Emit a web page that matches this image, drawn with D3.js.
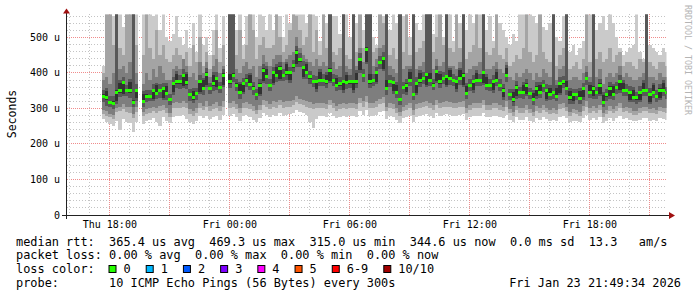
<!DOCTYPE html>
<html>
<head>
<meta charset="utf-8">
<script src="https://cdn.jsdelivr.net/npm/d3@7"></script>
<style>
body { margin: 0; background: #fff; }
svg { display: block; }
text { font-family: "DejaVu Sans Mono", monospace; fill: #000; }
</style>
</head>
<body>
<svg id="chart" width="697" height="297"></svg>
<script>
// graph window and smoke steps (10 min each)
var graphStart = new Date(2026, 0, 22, 15, 50);
var graphEnd = new Date(2026, 0, 23, 21, 50);
var firstStep = new Date(2026, 0, 22, 17, 35);
var stepMinutes = 10;

// median rtt per step, microseconds
var median = [335,330,318,315,346,350,372,350,350,318,
 350,null,321,335,335,350,343,350,357,343,
 325,371,375,375,394,372,338,330,343,375,
 357,397,357,370,385,360,394,null,375,394,
 366,346,370,380,368,357,338,366,408,390,
 366,400,394,414,394,400,400,420,459,437,
 415,402,390,375,375,380,378,375,408,380,
 365,370,375,372,375,375,375,437,394,467,
 375,378,400,430,442,357,375,372,346,324,
 360,366,380,338,370,378,385,395,380,366,
 403,375,385,390,385,378,375,385,394,343,
 366,375,378,380,400,366,366,375,380,366,
 352,394,340,324,360,345,345,366,343,324,
 357,345,365,350,338,345,335,370,375,355,
 330,340,338,327,355,385,345,357,345,366,
 318,338,357,340,360,375,350,352,345,332,
 330,345,350,352,340,345,335,352,350,345];

// the 10 pings of each step, lowest to highest (600 = off the top)
var ping1 = [270,262,255,250,265,240,270,262,258,235,
 262,null,255,265,268,272,262,250,275,265,
 258,275,280,278,282,270,262,255,265,278,
 272,280,270,275,280,268,282,null,278,285,
 275,265,278,282,275,268,262,272,288,282,
 275,282,278,288,280,282,285,288,295,290,
 288,282,262,245,270,278,280,275,288,278,
 272,276,278,275,278,278,275,292,282,295,
 278,280,282,290,292,270,278,275,268,258,
 272,275,280,262,276,280,282,285,280,274,
 288,278,282,284,282,280,278,282,284,268,
 275,278,280,280,288,275,275,278,280,275,
 272,282,268,262,275,268,268,275,266,262,
 272,268,275,270,265,268,264,276,278,272,
 262,266,265,262,272,282,268,272,268,275,
 258,266,272,266,274,280,270,272,268,264,
 264,268,272,272,266,268,264,272,270,268];
var ping2 = [285,280,275,270,290,292,298,290,288,272,
 290,null,278,285,286,292,288,292,295,286,
 276,300,302,300,305,300,285,280,286,300,
 295,305,294,298,302,294,305,null,300,305,
 298,288,300,302,298,292,284,296,310,305,
 298,305,302,310,302,305,305,310,318,312,
 310,305,302,298,300,300,300,298,310,300,
 294,298,300,298,300,300,298,315,305,318,
 300,302,305,312,315,292,300,298,288,280,
 292,296,302,282,298,302,304,306,302,296,
 310,300,304,305,304,302,300,304,305,288,
 296,300,302,302,310,296,296,300,302,296,
 292,305,286,280,295,288,288,296,286,280,
 292,288,296,290,284,288,284,298,300,292,
 280,286,284,280,292,305,288,292,288,296,
 276,285,292,286,294,300,290,292,288,282,
 282,288,292,292,286,288,284,292,290,288];
var ping3 = [295,292,285,282,302,305,312,305,305,285,
 305,null,290,298,300,305,302,306,310,300,
 288,315,318,315,320,315,298,292,300,315,
 308,320,308,312,318,308,320,null,315,320,
 312,302,315,318,312,306,296,310,325,320,
 312,320,318,325,318,320,320,325,335,328,
 325,320,318,312,315,315,315,312,325,316,
 308,312,315,312,315,315,312,330,320,335,
 315,316,320,328,332,305,315,312,300,290,
 305,310,316,295,312,316,318,322,316,310,
 325,315,318,320,318,316,315,318,320,300,
 310,315,316,316,325,310,310,315,316,310,
 305,320,298,290,308,300,300,310,298,290,
 306,300,310,302,296,300,295,312,315,305,
 290,298,296,290,306,320,300,306,300,310,
 286,296,306,298,308,315,302,304,300,292,
 292,300,305,305,298,300,295,305,302,300];
var ping4 = [317,308,304,299,314,332,336,334,330,303,
 322,null,305,317,320,322,327,330,323,325,
 310,339,357,355,358,354,322,315,323,341,
 339,361,341,350,353,344,360,null,357,374,
 350,328,340,360,353,339,323,334,372,370,
 350,366,376,378,378,380,372,402,417,417,
 383,384,370,360,347,362,362,357,372,362,
 350,352,345,356,357,345,359,401,376,425,
 357,363,368,410,406,339,360,342,330,310,
 342,338,362,323,338,360,369,361,362,351,
 371,357,369,360,367,363,347,367,360,328,
 348,345,362,362,366,351,348,345,364,348,
 324,376,325,308,328,330,327,336,328,310,
 327,330,347,320,323,327,320,338,357,339,
 314,312,323,313,325,367,330,327,327,336,
 304,320,327,325,342,345,335,334,317,317,
 312,317,335,334,312,330,317,324,335,327];
var ping5 = [331,324,315,310,321,345,342,346,344,314,
 330,null,317,329,332,328,338,346,329,338,
 321,346,370,369,364,367,334,325,337,347,
 352,367,353,364,360,355,366,null,370,388,
 362,341,346,374,364,352,334,340,378,385,
 362,372,389,384,390,394,380,415,424,431,
 390,397,384,371,355,375,374,369,378,375,
 361,364,353,368,370,351,370,407,389,432,
 370,374,375,424,412,352,371,350,341,320,
 355,346,375,334,345,373,381,367,375,362,
 378,370,381,366,380,374,355,380,366,339,
 361,353,374,375,372,362,361,353,375,362,
 332,389,336,319,335,341,340,342,339,320,
 335,341,360,326,334,340,331,344,370,351,
 325,320,334,323,331,380,341,335,340,342,
 314,333,335,336,355,351,346,347,323,328,
 325,325,346,347,318,341,330,330,346,340];
var ping6 = [340,350,322,321,351,372,377,354,375,323,
 355,null,341,340,339,355,365,355,361,363,
 330,375,397,380,398,396,343,350,347,380,
 379,402,361,395,390,364,399,null,397,399,
 371,368,374,385,393,362,342,371,413,412,
 370,405,416,419,398,425,405,424,464,442,
 420,424,394,380,379,402,383,395,413,384,
 387,375,379,394,380,379,400,442,398,472,
 397,383,404,435,446,379,380,376,366,329,
 364,371,402,343,374,400,390,399,400,371,
 407,397,390,394,407,383,379,407,399,363,
 370,380,400,384,405,388,370,380,402,370,
 357,414,344,346,365,349,367,371,347,344,
 362,367,369,355,358,349,357,375,379,377,
 350,345,342,349,360,389,367,362,349,371,
 338,342,362,362,364,380,372,356,350,352,
 334,350,372,356,345,365,339,357,372,349];
var ping7 = [353,358,334,335,600,380,390,366,382,600,
 368,null,349,351,353,370,373,368,373,371,
 341,389,405,393,410,404,356,358,359,393,
 387,415,373,402,403,376,412,null,600,600,
 384,376,386,398,400,375,354,384,426,420,
 382,418,424,432,410,432,418,436,477,455,
 433,432,406,393,391,410,396,403,600,398,
 395,388,600,402,393,600,407,455,410,600,
 600,396,416,448,458,600,393,388,374,600,
 376,384,410,600,388,408,403,600,600,384,
 419,405,403,600,415,396,391,415,600,371,
 382,393,408,396,600,396,382,393,410,382,
 370,422,356,354,378,361,375,384,359,352,
 375,375,381,368,366,600,365,388,391,600,
 358,356,356,357,371,403,375,600,361,384,
 346,354,375,370,376,393,380,368,363,360,
 346,363,380,600,358,373,351,370,380,361];
var ping8 = [380,390,370,400,600,410,420,400,430,600,
 400,null,370,400,380,410,390,420,400,380,
 380,410,420,410,440,420,390,400,380,430,
 400,430,390,420,440,400,420,null,600,600,
 410,400,420,430,410,420,390,420,450,430,
 420,440,450,450,430,440,450,460,500,470,
 450,440,430,420,440,420,430,420,600,430,
 410,420,600,420,410,600,420,470,430,600,
 600,420,440,470,480,600,420,410,400,600,
 410,420,420,600,410,420,430,600,600,410,
 440,420,430,600,420,420,410,430,600,400,
 410,420,420,430,600,410,410,420,430,410,
 400,430,390,380,400,390,400,410,400,380,
 400,390,410,400,390,600,380,410,420,600,
 380,390,390,380,400,420,390,600,390,410,
 370,390,400,390,400,420,390,400,390,380,
 380,390,400,600,390,390,380,400,390,390];
var ping9 = [400,600,600,480,600,470,450,600,600,600,
 480,null,450,600,470,440,520,450,480,440,
 430,450,470,450,440,460,420,480,430,500,
 420,460,410,450,520,430,480,null,600,600,
 450,520,440,480,600,520,440,480,500,470,
 470,480,600,500,460,480,520,600,560,520,
 480,500,600,460,520,450,600,470,600,460,
 450,470,600,450,440,600,460,600,470,600,
 600,460,470,600,540,600,450,470,440,600,
 460,600,450,600,460,470,490,600,600,460,
 500,600,480,600,470,460,600,470,600,440,
 460,480,600,470,600,460,450,470,600,450,
 440,470,420,430,450,440,470,600,460,430,
 450,600,460,440,430,600,420,450,470,600,
 410,420,430,410,440,600,430,600,440,460,
 430,440,470,430,450,460,420,430,430,420,
 410,440,430,600,430,420,410,430,430,420];
var ping10 = [420,600,600,560,600,600,530,600,600,600,
 600,null,600,600,600,560,600,520,600,500,
 490,510,560,500,480,520,470,540,460,600,
 480,500,450,520,600,470,560,null,600,600,
 520,600,480,560,600,600,500,600,560,520,
 600,520,600,560,500,600,540,600,600,580,
 600,540,600,600,560,490,600,540,600,560,
 560,510,600,580,500,600,540,600,520,600,
 600,500,480,600,560,600,520,600,540,600,
 560,600,500,600,540,520,600,600,600,510,
 600,600,500,600,580,490,600,540,600,520,
 600,540,600,600,600,520,560,490,600,540,
 520,500,480,510,490,600,600,600,600,560,
 540,600,530,520,540,600,500,490,560,600,
 460,480,450,470,490,600,600,600,520,540,
 560,520,600,540,500,470,450,460,470,480,
 600,460,440,600,480,470,460,450,470,460];

var yTicks = [0, 100, 200, 300, 400, 500];
var yTickLabels = ["0", "100 u", "200 u", "300 u", "400 u", "500 u"];
var xLabelTimes = [new Date(2026,0,22,18), new Date(2026,0,23,0), new Date(2026,0,23,6),
                   new Date(2026,0,23,12), new Date(2026,0,23,18)];
var lossLabels = ["0", "1", "2", "3", "4", "5", "6-9", "10/10"];
var lossColors = ["#26ff00", "#00b8ff", "#0059ff", "#7e00ff", "#ff00ff", "#ff5500", "#ff0000", "#a00000"];
var statLines = [
  "median rtt:  365.4 us avg  469.3 us max  315.0 us min  344.6 us now  0.0 ms sd  13.3   am/s",
  "packet loss: 0.00 % avg  0.00 % max  0.00 % min  0.00 % now"
];
var probeText = "probe:       10 ICMP Echo Pings (56 Bytes) every 300s";
var dateText = "Fri Jan 23 21:49:34 2026";

var shades = ["#cacaca", "#a4a4a4", "#7e7e7e", "#585858", "#323232"];

var plotLeft = 66.5, plotRight = 666.5, plotTop = 14.4, plotBottom = 215;

var svg = d3.select("#chart");

var x = d3.scaleTime().domain([graphStart, graphEnd]).range([plotLeft, plotRight]);
var y = d3.scaleLinear().domain([0, 565]).range([plotBottom, plotTop]);

var pings = [ping1, ping2, ping3, ping4, ping5, ping6, ping7, ping8, ping9, ping10];
var steps = [];
median.forEach(function(m, i) {
    if (m === null) return;
    var t0 = d3.timeMinute.offset(firstStep, i * stepMinutes);
    steps.push({
        t0: t0,
        t1: d3.timeMinute.offset(t0, stepMinutes),
        median: m,
        vals: pings.map(function(p) { return p[i]; }).sort(d3.ascending)
    });
});

// grid first, smoke goes over it
var grid = svg.append("g").attr("shape-rendering", "crispEdges");
var hGrid = d3.range(20, 565, 20);
grid.selectAll("line.h")
    .data(hGrid)
    .enter()
    .append("line")
    .attr("x1", plotLeft).attr("x2", plotRight)
    .attr("y1", function(d) { return Math.floor(y(d)) + 0.5; })
    .attr("y2", function(d) { return Math.floor(y(d)) + 0.5; })
    .attr("stroke", function(d) { return d % 100 === 0 ? "#f08c8c" : "#c4c4c4"; })
    .attr("stroke-dasharray", function(d) { return d % 100 === 0 ? "1,1" : "1,2"; });

var vGrid = d3.timeHour.range(d3.timeHour.ceil(graphStart), graphEnd);
grid.selectAll("line.v")
    .data(vGrid)
    .enter()
    .append("line")
    .attr("y1", plotTop).attr("y2", plotBottom)
    .attr("x1", function(d) { return Math.floor(x(d)) + 0.5; })
    .attr("x2", function(d) { return Math.floor(x(d)) + 0.5; })
    .attr("stroke", function(d) { return d.getHours() % 3 === 0 ? "#f08c8c" : "#c4c4c4"; })
    .attr("stroke-dasharray", function(d) { return d.getHours() % 3 === 0 ? "1,1" : "1,2"; });

svg.append("clipPath").attr("id", "plotclip")
    .append("rect")
    .attr("x", plotLeft).attr("y", plotTop)
    .attr("width", plotRight - plotLeft).attr("height", plotBottom - plotTop);

var plot = svg.append("g").attr("clip-path", "url(#plotclip)");

// smoke: band b goes from ping b+1 to ping 10-b
shades.forEach(function(col, b) {
    plot.append("g").selectAll("rect")
        .data(steps)
        .enter()
        .append("rect")
        .attr("x", function(d) { return x(d.t0); })
        .attr("width", function(d) { return x(d.t1) - x(d.t0); })
        .attr("y", function(d) { return y(d.vals[9 - b]); })
        .attr("height", function(d) { return y(d.vals[b]) - y(d.vals[9 - b]); })
        .attr("fill", col)
        .attr("shape-rendering", "crispEdges");
});

// median, coloured by loss (all 0 here)
plot.append("g").selectAll("rect")
    .data(steps)
    .enter()
    .append("rect")
    .attr("x", function(d) { return x(d.t0); })
    .attr("width", function(d) { return x(d.t1) - x(d.t0); })
    .attr("y", function(d) { return y(d.median) - 1.5; })
    .attr("height", 3)
    .attr("fill", lossColors[0])
    .attr("shape-rendering", "crispEdges");

// axes
svg.append("line").attr("x1", 62).attr("x2", 669).attr("y1", 215.5).attr("y2", 215.5)
    .attr("stroke", "#222");
svg.append("line").attr("x1", 66.5).attr("x2", 66.5).attr("y1", 13).attr("y2", 219)
    .attr("stroke", "#222");
svg.append("path").attr("d", "M63,13.5L70,13.5L66.5,8.5Z").attr("fill", "#a01010");
svg.append("path").attr("d", "M669,212L669,219L675,215.5Z").attr("fill", "#a01010");

svg.append("g").selectAll("text")
    .data(yTicks)
    .enter()
    .append("text")
    .attr("x", 60)
    .attr("y", function(d) { return y(d) + 3.5; })
    .attr("text-anchor", "end")
    .style("font-size", "10px")
    .style("white-space", "pre")
    .text(function(d, i) { return yTickLabels[i]; });

svg.append("g").selectAll("text")
    .data(xLabelTimes)
    .enter()
    .append("text")
    .attr("x", function(d) { return x(d); })
    .attr("y", 228)
    .attr("text-anchor", "middle")
    .style("font-size", "10px")
    .text(d3.timeFormat("%a %H:%M"));

svg.append("text")
    .attr("transform", "translate(16,114) rotate(-90)")
    .attr("text-anchor", "middle")
    .style("font-size", "11.5px")
    .text("Seconds");

svg.append("text")
    .attr("transform", "translate(685,5) rotate(90)")
    .style("font-size", "8.3px")
    .style("fill", "#b4b4b4")
    .text("RRDTOOL / TOBI OETIKER");

// legend text
var fs = 11.9, cw = 7.16;
statLines.forEach(function(s, i) {
    svg.append("text")
        .attr("x", 16).attr("y", 245.5 + i * 13.8)
        .attr("xml:space", "preserve")
        .style("white-space", "pre")
        .style("font-size", fs + "px")
        .text(s);
});

svg.append("text")
    .attr("x", 16).attr("y", 273)
    .style("font-size", fs + "px")
    .text("loss color:");

var lx = 108.5;
lossLabels.forEach(function(lab, i) {
    svg.append("rect")
        .attr("x", lx + 0.5).attr("y", 265.5)
        .attr("width", 7).attr("height", 7)
        .attr("fill", lossColors[i])
        .attr("stroke", "#000");
    svg.append("text")
        .attr("x", lx + 15).attr("y", 273)
        .style("font-size", fs + "px")
        .text(lab);
    lx += 30.05 + lab.length * cw;
});

svg.append("text")
    .attr("x", 16).attr("y", 286.8)
    .attr("xml:space", "preserve")
    .style("white-space", "pre")
    .style("font-size", fs + "px")
    .text(probeText);

svg.append("text")
    .attr("x", 681).attr("y", 286.8)
    .attr("text-anchor", "end")
    .style("font-size", fs + "px")
    .text(dateText);
</script>
</body>
</html>
